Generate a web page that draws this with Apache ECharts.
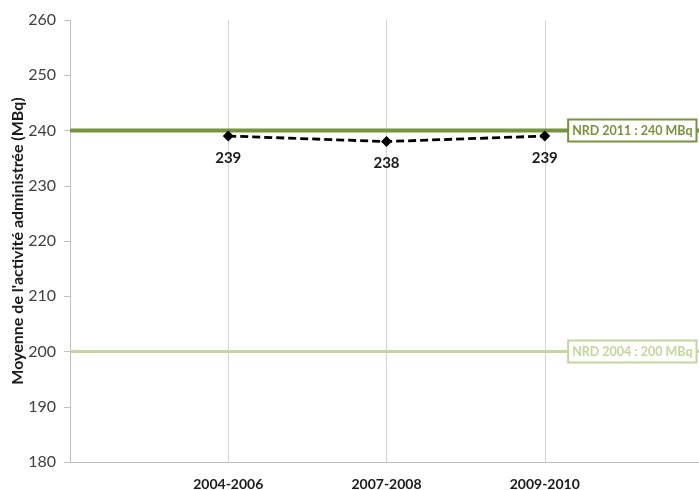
<!DOCTYPE html>
<html><head><meta charset="utf-8">
<script src="https://cdn.jsdelivr.net/npm/echarts@6/dist/echarts.min.js"></script>
<style>html,body{margin:0;padding:0;background:#fff}#c{width:699px;height:490px}</style>
</head><body><div id="c"></div>
<script>
const categories = ['', '2004-2006', '2007-2008', '2009-2010', ''];
const moyenne = [null, 239, 238, 239, null];
const nrd2011 = 240;
const nrd2004 = 200;
const nrd2011Label = 'NRD 2011 : 240 MBq';
const nrd2004Label = 'NRD 2004 : 200 MBq';
const yMin = 180, yMax = 260, yStep = 10;

const FONT = 'Lato';
function refLine(value, label, color, width) {
  const data = categories.map((c, i) => {
    if (i < categories.length - 1) return value;
    return {
      value: value,
      label: {
        show: true, formatter: label, position: 'left', distance: 7,
        color: color, fontFamily: FONT, fontWeight: 'bold', fontSize: 12.5,
        backgroundColor: '#fff', borderColor: color, borderWidth: 2, padding: [4, 3, 3, 3]
      }
    };
  });
  return {
    type: 'line', data: data, symbol: 'circle', symbolSize: 1, showSymbol: true, silent: true,
    itemStyle: { color: 'rgba(0,0,0,0)' },
    lineStyle: { color: color, width: width }, z: 1, clip: false
  };
}
const chart = echarts.init(document.getElementById('c'));
chart.setOption({
  animation: false,
  grid: { left: 70, right: -4, top: 20, bottom: 28, containLabel: false, outerBoundsMode: 'none' },
  xAxis: {
    type: 'category', data: categories, boundaryGap: false,
    axisLine: { lineStyle: { color: '#bfbfbf', width: 1 } },
    axisTick: { show: false },
    axisLabel: { color: '#1a1a1a', fontFamily: FONT, fontWeight: 'bold', fontSize: 14, margin: 15, interval: 0 },
    splitLine: { show: true, lineStyle: { color: '#d4d4d4', width: 1 } }
  },
  yAxis: {
    type: 'value', min: yMin, max: yMax, interval: yStep,
    name: "Moyenne de l'activité administrée (MBq)", nameLocation: 'middle', nameGap: 44,
    nameMoveOverlap: false,
    nameTextStyle: { color: '#1a1a1a', fontFamily: FONT, fontWeight: 'bold', fontSize: 16 },
    axisLine: { show: true, lineStyle: { color: '#bfbfbf' } },
    axisTick: { show: true, length: 6, lineStyle: { color: '#bfbfbf' } },
    axisLabel: { color: '#404040', fontFamily: FONT, fontSize: 16, margin: 14 },
    splitLine: { show: false }
  },
  series: [
    refLine(nrd2004, nrd2004Label, '#c3d69b', 3),
    refLine(nrd2011, nrd2011Label, '#77933c', 4),
    {
      type: 'line', data: moyenne, z: 5,
      symbol: 'diamond', symbolSize: 11,
      itemStyle: { color: '#000' },
      lineStyle: { color: '#000', width: 2.8, type: [8, 4] },
      label: { show: true, position: 'bottom', distance: 9, color: '#1a1a1a', fontFamily: FONT, fontWeight: 'bold', fontSize: 15 }
    }
  ]
});
</script></body></html>
